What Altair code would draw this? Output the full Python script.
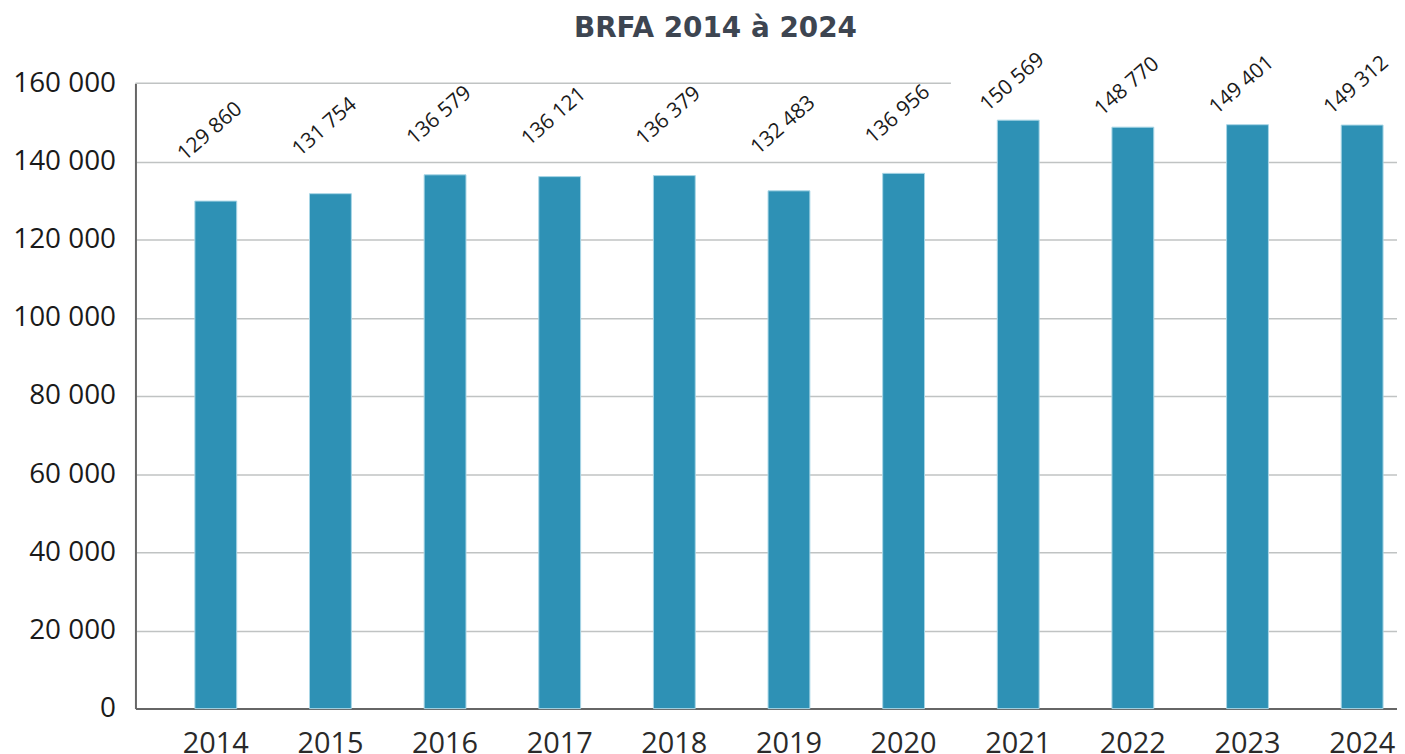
import altair as alt
import pandas as pd

years = ["2014", "2015", "2016", "2017", "2018", "2019", "2020", "2021", "2022", "2023", "2024"]
values = [129860, 131754, 136579, 136121, 136379, 132483, 136956, 150569, 148770, 149401, 149312]
y_ticks = [0, 20000, 40000, 60000, 80000, 100000, 120000, 140000, 160000]

df = pd.DataFrame({"year": years, "value": values})

W, H = 1267, 628
BAR = "#2e91b5"
GRID = "#c0c3c3"
AXIS = "#666666"
LABEL_FONT = "Open Sans"

fmt = "replace(format(datum.value, ',d'), ',', ' ')"

x_enc = alt.X(
    "year:N",
    sort=years,
    scale=alt.Scale(paddingInner=0.635, paddingOuter=0.32, align=0.81, round=False),
    axis=alt.Axis(
        title=None, labelAngle=0, ticks=False, domain=True, domainColor=AXIS,
        domainWidth=2, labelFont=LABEL_FONT, labelFontSize=29, labelColor="#2a2a2a",
        labelPadding=21, grid=False,
    ),
)
y_enc = alt.Y(
    "value:Q",
    scale=alt.Scale(domain=[0, 160000], nice=False),
    axis=alt.Axis(
        title=None, values=y_ticks, ticks=False, domain=True, domainColor=AXIS,
        domainWidth=2, labelFont=LABEL_FONT, labelFontSize=28, labelColor="#1a1a1a",
        labelPadding=20, labelExpr=fmt, grid=True,
        gridColor={"condition": {"test": "datum.value == 160000", "value": "transparent"}, "value": GRID},
        gridWidth=1.5,
    ),
)

base = alt.Chart(df)

top_line = base.mark_rule(color=GRID, strokeWidth=1.5).encode(
    y=alt.datum(160000), x=alt.value(0), x2=alt.value(819)
).transform_filter("datum.year == '2014'")

bars = base.mark_bar(color=BAR, stroke="#a8d6e6", strokeWidth=1).encode(x=x_enc, y=y_enc)

# value labels sit above the bars, in a compressed band near the top
labels = base.transform_calculate(
    label="replace(format(datum.value, ',d'), ',', ' ')",
    label_pos="0.61 * datum.value + 68300",
).mark_text(
    font=LABEL_FONT, fontSize=21, color="#1a1a1a", angle=319,
    align="center", baseline="middle", dx=-4, dy=-4,
).encode(
    x=alt.X("year:N", sort=years),
    y=alt.Y("label_pos:Q"),
    text="label:N",
)

chart = alt.layer(top_line, bars, labels).properties(
    width=W, height=H,
    title=alt.TitleParams(
        "BRFA 2014 à 2024", font="DejaVu Sans", fontWeight="bold", fontSize=28,
        color="#3d4551", anchor="middle", dx=-51, dy=14, offset=20,
    ),
    autosize=alt.AutoSizeParams(type="none"),
    padding={"left": 128, "top": 74, "right": 0, "bottom": 48},
).configure_view(stroke=None)

chart.save("out.html", embed_options={"renderer": "svg", "actions": False})
